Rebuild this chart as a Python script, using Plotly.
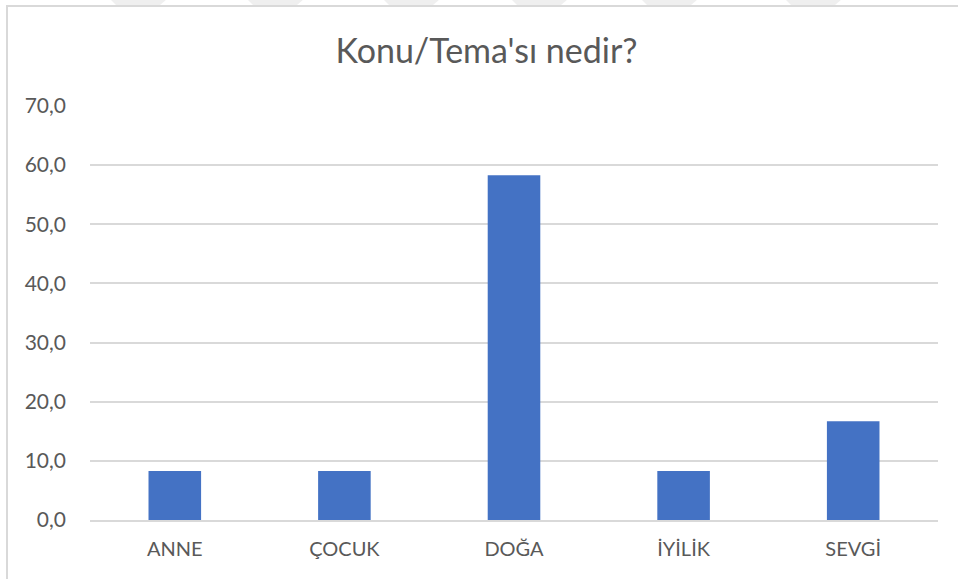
import plotly.graph_objects as go

categories = ["ANNE", "ÇOCUK", "DOĞA", "İYİLİK", "SEVGİ"]
values = [8.3, 8.3, 58.3, 8.3, 16.7]
tick_vals = [0, 10, 20, 30, 40, 50, 60, 70]
tick_text = ["0,0", "10,0", "20,0", "30,0", "40,0", "50,0", "60,0", "70,0"]

W, H = 958, 579
L, R, T, B = 90, 20, 106, 59
pw, ph = W - L - R, H - T - B


def px(x):
    return (x - L) / pw


def py(y):
    return ((H - B) - y) / ph


fig = go.Figure(go.Bar(x=categories, y=values, marker_color="#4472C4",
                       marker_line_width=0))

shapes = []
# faint watermark chevrons above the chart frame
for a in [110, 247, 383, 511, 641, 785]:
    path = (f"M {px(a)},{py(-1)} L {px(a + 57)},{py(-1)} "
            f"L {px(a + 50)},{py(5)} L {px(a + 6)},{py(5)} Z")
    shapes.append(dict(type="path", xref="paper", yref="paper", path=path,
                       fillcolor="#efefef", line=dict(width=0), layer="below"))
shapes.append(dict(type="rect", xref="paper", yref="paper",
                   x0=px(7), x1=px(W + 10), y0=py(H + 10), y1=py(6),
                   line=dict(color="#d9d9d9", width=2), layer="below"))

fig.update_layout(
    width=W, height=H,
    margin=dict(l=L, r=R, t=T, b=B),
    paper_bgcolor="white", plot_bgcolor="white",
    bargap=0.69,
    showlegend=False,
    font=dict(family="Lato, Open Sans, sans-serif", color="#595959", size=20),
    title=dict(text="Konu/Tema'sı nedir?", x=(486.5) / W, xanchor="center",
               y=1 - 51 / H, yanchor="middle",
               font=dict(size=34, color="#595959")),
    xaxis=dict(showgrid=False, showline=True, linecolor="#d9d9d9", linewidth=1.5,
               ticks="", ticklabelstandoff=10,
               tickfont=dict(size=20, color="#595959")),
    yaxis=dict(range=[0, 70], tickvals=tick_vals, ticktext=tick_text,
               showgrid=True, gridcolor="#d9d9d9", gridwidth=1.5,
               zeroline=False, showline=False, ticks="",
               ticklabelstandoff=23,
               tickfont=dict(size=21, color="#595959")),
    shapes=shapes,
)

fig.write_html("out.html", config={"displayModeBar": False},
               post_script="document.body.style.margin='0';")
